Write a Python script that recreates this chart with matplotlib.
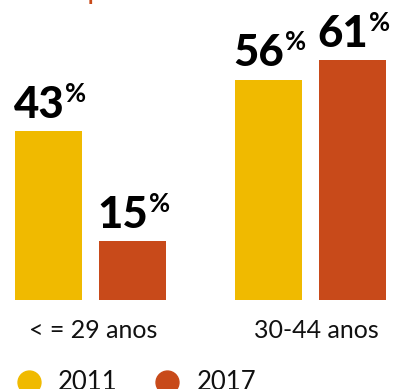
import matplotlib
matplotlib.use("Agg")
import matplotlib.pyplot as plt
from matplotlib.lines import Line2D
import numpy as np

# Data
categories = ["< = 29 anos", "30-44 anos"]
years = ["2011", "2017"]
values_2011 = [43, 56]
values_2017 = [15, 61]
colors = {"2011": "#F0BA00", "2017": "#C84A1A"}

W, H = 399, 389
fig = plt.figure(figsize=(W / 100, H / 100), dpi=100)
ax = fig.add_axes([0, 0, 1, 1])

# group spacing of 220 px, bar width 67 px, 17 px gap inside a group
px_per_unit_x = 220.0
px_per_pct = 3.93
x0_px = 90.5
base_px = 89.0  # bar baseline measured from bottom edge

ax.set_xlim(-x0_px / px_per_unit_x, (W - x0_px) / px_per_unit_x)
ax.set_ylim(-base_px / px_per_pct, (H - base_px) / px_per_pct)
ax.axis("off")

x = np.arange(len(categories))
bw = 67 / px_per_unit_x
off = 42 / px_per_unit_x

num_font = dict(family="Lato", weight="black", size=31.5, color="black")
pct_font = dict(family="Lato", weight="bold", size=18.5, color="black")

for series, vals, sign in (("2011", values_2011, -1), ("2017", values_2017, 1)):
    pos = x + sign * off
    ax.bar(pos, vals, width=bw, color=colors[series], linewidth=0)
    for p, v in zip(pos, vals):
        left = p - bw / 2
        t = ax.text(left - 1.5 / px_per_unit_x, v + 13.5 / px_per_pct, f"{v}",
                    ha="left", va="baseline", **num_font)
        fig.canvas.draw()
        bb = t.get_window_extent()
        xr = ax.transData.inverted().transform((bb.x1 + 1, 0))[0]
        ax.text(xr, v + 29.5 / px_per_pct, "%", ha="left", va="baseline", **pct_font)

# category labels under each group
for xi, c, dx in zip(x, categories, (3, 6)):
    ax.text(xi + dx / px_per_unit_x, -38 / px_per_pct, c, ha="center", va="baseline",
            family="Lato", weight="normal", size=18, color="#111111")

# legend row
leg_y = 1 - 381.5 / H
for cx, tx, yr in ((28.5, 58, "2011"), (166.5, 197, "2017")):
    fig.add_artist(Line2D([cx / W], [leg_y], transform=fig.transFigure, marker="o",
                          markersize=16.5, color=colors[yr], linestyle="none"))
    fig.text(tx / W, 1 - 390 / H, yr, ha="left", va="baseline",
             family="Lato", weight="normal", size=18.5, color="#111111")

# title above the plot area
fig.text(88 / W, 1.0, "p", ha="left", va="baseline", family="Lato",
         weight="bold", size=16, color=colors["2017"])

fig.savefig("out.png", dpi=100)
